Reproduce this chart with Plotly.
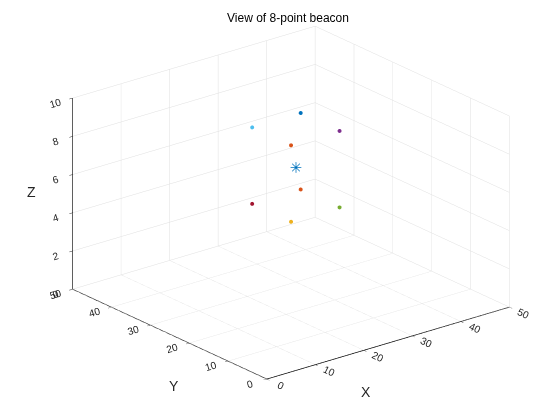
import plotly.graph_objects as go
import math

# Beacon data
point_x = [35, 25, 25, 35, 35, 25, 25, 35]
point_y = [35, 25, 25, 25, 25, 35, 35, 35]
point_z = [8, 8, 4, 8, 4, 8, 4, 4]
point_colors = ["#0072BD", "#D95319", "#EDB120", "#7E2F8E", "#77AC30", "#4DBEEE", "#A2142F", "#D95319"]
center_x = [30]
center_y = [30]
center_z = [6]

x_ticks = [0, 10, 20, 30, 40, 50]
y_ticks = [0, 10, 20, 30, 40, 50]
z_ticks = [0, 2, 4, 6, 8, 10]

fig = go.Figure()
fig.add_trace(go.Scatter3d(x=point_x, y=point_y, z=point_z, mode="markers",
                           marker=dict(size=2.3, color=point_colors, line=dict(width=0)),
                           showlegend=False))
fig.add_trace(go.Scatter3d(x=center_x, y=center_y, z=center_z, mode="text",
                           text=["✳"], textposition="middle center",
                           textfont=dict(family="DejaVu Sans", size=15, color="#0072BD"),
                           showlegend=False))

axis_common = dict(showbackground=False, showline=True, linecolor="#000000", linewidth=1.5,
                   gridcolor="#DFDFDF", gridwidth=1, ticks="outside", ticklen=4,
                   tickcolor="#262626", tickfont=dict(family="Liberation Sans, Arial", size=11, color="#262626"),
                   zeroline=False, showspikes=False, title=dict(text=""))

el = math.radians(20.8)
az = math.radians(37.5)
r = 1.8
eye = dict(x=-r * math.cos(el) * math.sin(az), y=-r * math.cos(el) * math.cos(az), z=r * math.sin(el))
k = 1.55

label_font = dict(family="Liberation Sans, Arial", size=14, color="#262626")

fig.update_layout(
    width=560, height=420,
    paper_bgcolor="white",
    margin=dict(l=0, r=0, t=0, b=0),
    title=dict(text="View of 8-point beacon", x=0.5, xanchor="center", y=0.977, yanchor="middle",
               font=dict(family="Liberation Sans, Arial", size=12, color="#000000")),
    scene=dict(
        domain=dict(x=[0.036, 1], y=[0.045, 1]),
        xaxis=dict(range=[0, 50], tickvals=x_ticks, **axis_common),
        yaxis=dict(range=[0, 50], tickvals=y_ticks, **axis_common),
        zaxis=dict(range=[0, 10], tickvals=z_ticks, **axis_common),
        aspectmode="manual", aspectratio=dict(x=k, y=k, z=0.662 * k),
        camera=dict(eye=eye, up=dict(x=0, y=0, z=1), center=dict(x=0.028, y=-0.021, z=-0.032),
                    projection=dict(type="orthographic")),
    ),
    annotations=[
        dict(text="X", x=358 / 560, y=1 - 384 / 420, xref="paper", yref="paper",
             showarrow=False, font=label_font, xanchor="center", yanchor="middle"),
        dict(text="Y", x=166 / 560, y=1 - 378 / 420, xref="paper", yref="paper",
             showarrow=False, font=label_font, xanchor="center", yanchor="middle"),
        dict(text="Z", x=23 / 560, y=1 - 184 / 420, xref="paper", yref="paper",
             showarrow=False, font=label_font, xanchor="center", yanchor="middle"),
    ],
)

fig.write_html("out.html", config=dict(displayModeBar=False))
